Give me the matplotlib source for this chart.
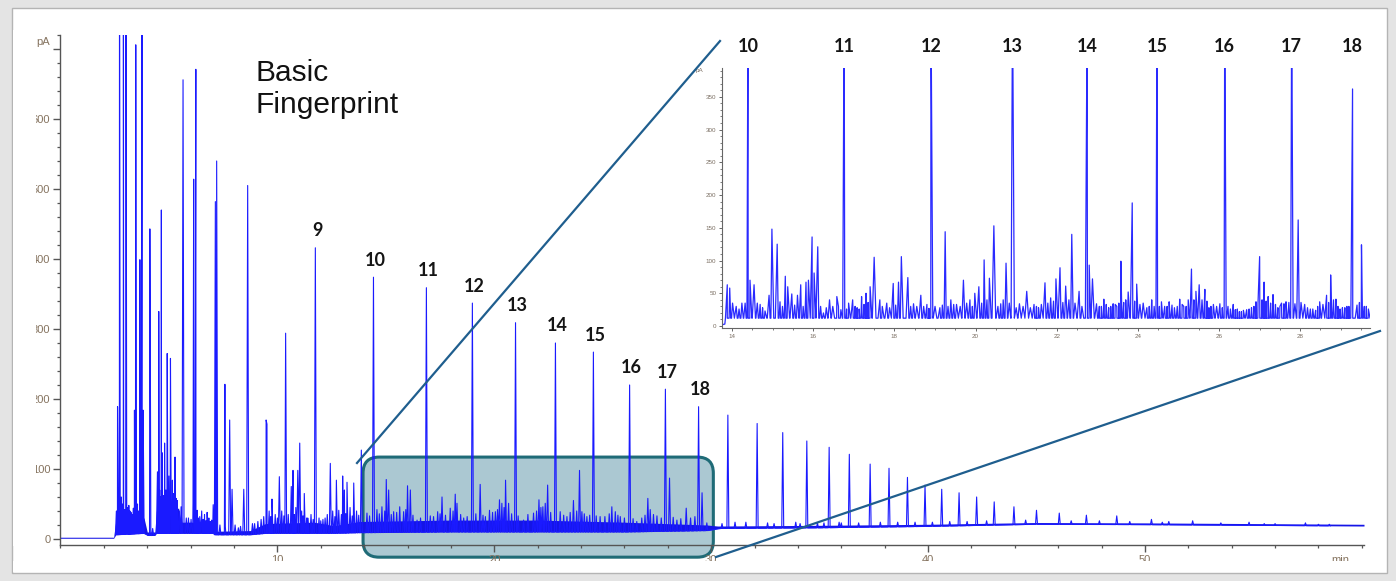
import numpy as np
import matplotlib.pyplot as plt
from matplotlib.patches import Rectangle, FancyBboxPatch
from matplotlib.lines import Line2D
from matplotlib.transforms import IdentityTransform, blended_transform_factory
from matplotlib.ticker import MultipleLocator, FixedLocator, FixedFormatter

plt.rcParams['font.family'] = ['Liberation Sans', 'DejaVu Sans']

W, H = 1396, 581

# ---- main chromatogram: retention time (min) and apex (pA) ----
main_t = [2.63, 2.72, 2.80, 2.90, 3.02, 3.10, 3.20, 3.30, 3.41, 3.47, 3.55, 3.66, 3.73, 3.76, 3.81,
          4.12, 4.15, 4.47, 4.53, 4.60, 4.65, 4.70, 4.80, 4.86, 4.92, 5.00, 5.07, 5.16, 5.22, 5.28,
          5.38, 5.56, 5.65, 5.80, 6.11, 6.14, 6.24, 6.30, 6.42, 6.51, 6.64, 6.76, 6.90, 7.04, 7.14,
          7.20, 7.35, 7.58, 7.80, 7.91, 8.05, 8.30, 8.45, 8.63, 8.85, 9.10, 9.37, 9.48, 9.52, 9.62,
          9.75, 9.90, 10.09, 10.20, 10.38, 10.50, 10.64, 10.72, 10.85, 10.94, 11.03, 11.12, 11.24,
          11.40, 11.55, 11.92, 12.10, 12.30, 12.44, 12.55, 12.72, 12.83, 13.01, 13.09, 13.21, 13.35,
          13.52, 13.65, 13.87,
          2.58, 2.67, 2.85, 2.96, 3.15, 3.25, 3.36, 3.60, 4.25, 4.45, 4.57, 4.75, 5.10, 5.33, 5.48,
          5.90, 6.02, 6.20, 6.35, 6.58, 6.70, 6.84, 6.97, 7.60, 8.20, 8.95, 9.25, 9.70, 10.00, 10.30,
          10.78, 11.18, 11.35, 11.65, 12.00, 12.20, 12.65, 12.95, 13.15, 13.45, 13.75,
          14.13, 14.59, 14.82, 15.02, 15.13, 15.36, 15.64, 15.82, 16.00, 16.13, 16.44, 17.20, 17.39,
          17.59, 17.97, 18.20, 18.28, 18.59, 19.35, 19.59, 19.78, 20.05, 20.24, 20.35, 20.52, 20.66,
          21.35, 21.81, 22.06, 22.24, 22.35, 22.46, 23.04, 23.35, 23.65, 23.93, 24.04, 24.27, 24.88,
          25.42, 25.58, 25.81, 26.57, 27.08, 27.19, 27.34, 28.08, 28.42, 28.85, 29.58, 29.80,
          14.25, 14.70, 14.95, 15.25, 15.50, 15.92, 16.25, 16.60, 17.05, 17.50, 17.75, 18.10, 18.45,
          18.75, 19.15, 19.48, 19.92, 20.15, 20.45, 20.80, 21.10, 21.55, 21.95, 22.15, 22.60, 23.20,
          23.50, 23.80, 24.15, 24.40, 24.70, 25.10, 25.30, 25.70, 26.00, 26.40, 26.80, 26.95, 27.50,
          27.70, 28.25, 28.60, 29.05, 29.25,
          30.77, 31.10, 31.60, 32.12, 32.60, 33.30, 33.90, 34.41, 34.90, 35.44, 35.90, 36.37, 37.33,
          37.80, 38.20, 39.05, 39.86, 40.63, 41.43, 42.24, 43.05, 43.96, 45.00, 46.05, 47.30, 48.70,
          50.30, 51.10, 52.20, 53.50, 54.80, 56.00, 57.40, 58.50,
          30.50, 32.90, 34.10, 35.20, 36.00, 36.80, 38.60, 39.40, 40.20, 41.00, 41.80, 42.70, 44.50,
          46.60, 47.90, 49.30, 50.80, 55.50, 58.00]
main_h = [189, 900, 60, 900, 900, 45, 40, 35, 184, 706, 50, 399, 58, 900, 184,
          443, 181, 96, 325, 60, 470, 123, 137, 70, 265, 90, 258, 84, 65, 117,
          55, 46, 656, 30, 51, 514, 671, 41, 32, 40, 35, 38, 25, 49, 482,
          540, 20, 221, 170, 71, 20, 18, 71, 505, 22, 25, 32, 170, 164, 40,
          57, 35, 89, 40, 294, 35, 75, 98, 45, 98, 137, 40, 65,
          30, 35, 30, 28, 35, 108, 40, 84, 41, 90, 70, 81, 45,
          80, 40, 127,
          40, 45, 50, 42, 48, 38, 44, 40, 15, 55, 70, 62, 60, 58, 40,
          30, 28, 33, 30, 28, 26, 30, 27, 18, 16, 22, 28, 32, 30, 33,
          35, 33, 30, 28, 26, 30, 32, 35, 36, 33, 34,
          37, 42, 46, 85, 70, 39, 46, 39, 76, 70, 27, 32, 39,
          60, 44, 64, 51, 30, 78, 32, 41, 39, 56, 51, 84, 51,
          27, 37, 56, 46, 51, 77, 39, 32, 55, 98, 39, 32, 32,
          46, 39, 32, 25, 58, 42, 35, 87, 27, 44, 66, 23,
          33, 36, 40, 35, 38, 42, 34, 30, 33, 36, 34, 40, 35,
          32, 36, 34, 38, 42, 45, 36, 33, 35, 40, 45, 38, 34,
          38, 40, 36, 34, 33, 32, 36, 34, 30, 29, 30, 34, 33,
          30, 31, 29, 30, 32,
          177, 24, 24, 165, 23, 152, 24, 140, 23, 131, 24, 121, 107,
          24, 101, 88, 77, 71, 66, 60, 53, 46, 41, 37, 34, 33,
          28, 25, 26, 23, 24, 22, 23, 21,
          22, 22, 22, 23, 23, 23, 24, 24, 24, 25, 25, 26, 27,
          26, 26, 25, 24, 22, 21]

# numbered n-alkane peaks in the main trace
num_main = [9, 10, 11, 12, 13, 14, 15, 16, 17, 18]
num_main_t = [11.75, 14.43, 16.87, 18.99, 20.98, 22.82, 24.57, 26.24, 27.89, 29.42]
num_main_h = [416, 374, 359, 337, 309, 280, 267, 220, 214, 189]

# unresolved envelope / baseline under the peaks (low and high edge, pA)
env_t = [0.0, 2.45, 2.55, 3.85, 4.0, 4.35, 4.42, 5.45, 5.52, 6.12, 7.05, 7.12, 8.75, 9.45,
         11.7, 12.6, 13.8, 18.0, 22.0, 26.0, 29.8, 30.3, 35.0, 40.0, 45.0, 50.0, 55.0, 60.1]
env_lo = [1, 1, 6, 8, 5, 5, 8, 8, 8, 8, 8, 6, 6, 8,
          8, 8, 9, 10, 10, 10, 12, 15, 16, 18, 21, 20.5, 19.5, 18.5]
env_hi = [2.5, 2.5, 26, 30, 10, 10, 40, 44, 24, 24, 18, 11, 12, 22,
          24, 19, 25, 27, 27, 24, 20, 18.5, 19.5, 21, 23.5, 23, 22, 21]

# zoomed region shown in the inset (min, pA)
zoom_t = [13.95, 30.1]
zoom_pa = [-26, 117]

# ---- inset chromatogram 14-30 min ----
ins_t = [13.88, 13.94, 14.01, 14.24, 14.32, 14.44, 14.54, 14.62, 14.69, 14.81, 14.91, 14.98, 15.11,
         15.18, 15.31, 15.37, 15.47, 15.61, 15.69, 15.82, 15.88, 15.97, 16.02, 16.11, 16.25, 16.32,
         16.40, 16.48, 16.58, 16.68, 16.87, 16.97, 17.08, 17.19, 17.30, 17.40, 17.50, 17.64, 17.81,
         17.97, 18.10, 18.17, 18.33, 18.47, 18.55, 18.65, 18.80, 19.12, 19.25, 19.39, 19.53, 19.70,
         19.86, 19.98, 20.08, 20.21, 20.34, 20.45, 20.62, 20.75, 21.08, 21.17, 21.26, 21.44, 21.55,
         21.71, 21.85, 21.98, 22.08, 22.22, 22.37, 22.55, 22.80, 22.88, 22.98, 23.05, 23.16, 23.28,
         23.39, 23.48, 23.58, 23.76, 23.86, 23.97, 24.13, 24.22, 24.34, 24.58, 24.66, 24.77, 24.90,
         25.03, 25.13, 25.24, 25.32, 25.43, 25.51, 25.65, 25.75, 25.86, 26.02, 26.35, 26.45, 26.55,
         26.68, 26.80, 26.91, 27.00, 27.11, 27.21, 27.33, 27.45, 27.54, 27.65, 27.95, 28.11, 28.25,
         28.38, 28.48, 28.65, 28.75, 28.88, 28.98, 29.10, 29.20, 29.51, 29.63,
         14.10, 14.17, 14.75, 15.24, 15.54, 15.75, 16.18, 16.62, 16.82, 17.03, 17.13, 17.25, 17.35,
         17.70, 17.88, 18.03, 18.40, 18.72, 18.85, 19.00, 19.18, 19.32, 19.46, 19.62, 19.78, 19.92,
         20.15, 20.28, 20.55, 20.68, 20.83, 21.00, 21.35, 21.50, 21.62, 21.78, 21.92, 22.15, 22.30,
         22.45, 22.62, 23.10, 23.22, 23.33, 23.44, 23.53, 23.65, 23.70, 23.92, 24.05, 24.28, 24.40,
         24.53, 24.72, 24.84, 24.97, 25.09, 25.19, 25.38, 25.58, 25.70, 25.80, 25.94, 26.08, 26.22,
         26.28, 26.40, 26.50, 26.60, 26.74, 26.86, 26.96, 27.06, 27.16, 27.27, 27.39, 27.50, 27.60,
         27.72, 27.87, 28.02, 28.18, 28.31, 28.43, 28.56, 28.70, 28.82, 28.93, 29.04, 29.15, 29.25,
         29.40, 29.46, 29.58, 29.68]
ins_h = [63, 58, 35, 35, 35, 70, 63, 35, 33, 23, 47, 148, 125,
         37, 76, 60, 49, 47, 63, 67, 70, 136, 81, 121, 20, 28,
         40, 30, 45, 25, 35, 40, 28, 45, 50, 60, 105, 40, 35,
         65, 67, 106, 74, 34, 30, 47, 33, 28, 144, 40, 33, 70,
         40, 50, 60, 101, 73, 153, 34, 96, 34, 30, 53, 33, 28,
         66, 43, 72, 89, 61, 140, 53, 93, 72, 34, 30, 41, 28,
         34, 30, 99, 52, 188, 64, 35, 28, 40, 37, 30, 37, 28,
         41, 30, 40, 87, 53, 63, 56, 28, 33, 34, 33, 26, 22,
         25, 28, 37, 106, 67, 45, 48, 28, 35, 37, 162, 33, 26,
         24, 37, 47, 78, 41, 26, 28, 30, 124, 30,
         30, 26, 28, 30, 32, 30, 30, 30, 26, 30, 26, 33, 36,
         30, 28, 32, 30, 30, 27, 30, 32, 30, 33, 30, 35, 30,
         35, 40, 30, 40, 35, 28, 28, 30, 33, 35, 38, 36, 40,
         35, 30, 30, 33, 30, 33, 35, 36, 40, 38, 33, 30, 30,
         30, 30, 32, 30, 33, 30, 40, 40, 38, 30, 30, 28, 30,
         26, 25, 22, 24, 26, 30, 35, 40, 38, 35, 33, 30, 34,
         36, 34, 36, 28, 26, 30, 33, 36, 40, 30, 28, 30, 33,
         32, 36, 30, 26]
ins_base_t = [13.75, 13.82, 13.88, 29.72]
ins_base_v = [2, 3, 12, 12]

num_ins = [10, 11, 12, 13, 14, 15, 16, 17, 18]
num_ins_t = [14.39, 16.76, 18.90, 20.91, 22.75, 24.47, 26.14, 27.79, 29.29]
num_ins_h = [500, 500, 500, 500, 500, 500, 500, 500, 362]


def px(x, y):
    return x / W, 1 - y / H


def spikes(t, h, base_t, base_v, w, with_base=False):
    t = np.asarray(t, float)
    h = np.asarray(h, float)
    b = np.interp(t, base_t, base_v)
    xs = [t - w, t, t + w]
    ys = [b, h, b]
    if with_base:
        xs.append(np.asarray(base_t, float))
        ys.append(np.asarray(base_v, float))
    xs = np.concatenate(xs)
    ys = np.concatenate(ys)
    o = np.argsort(xs, kind='stable')
    return xs[o], ys[o]


lab_col = '#85735f'
blue = '#1a1aff'

fig = plt.figure(figsize=(W / 100, H / 100), dpi=100)
fig.patch.set_facecolor('#e4e4e4')
fig.add_artist(Rectangle(px(12, 573), (1387 - 12) / W, (573 - 8) / H, transform=fig.transFigure,
                         fc='white', ec='#b4b4b4', lw=1, zorder=-1))

# main axes
ax = fig.add_axes([60.5 / W, 1 - 545 / H, (1364 - 60.5) / W, (545 - 35) / H])
ax.set_xlim(0, 60.1)
ax.set_ylim(-8.6, 720)
ax.patch.set_alpha(0)
for s in ['top', 'right']:
    ax.spines[s].set_visible(False)
for s in ['left', 'bottom']:
    ax.spines[s].set_color('#555555')
    ax.spines[s].set_linewidth(1.0)
ax.xaxis.set_major_locator(FixedLocator([10, 20, 30, 40, 50]))
ax.xaxis.set_minor_locator(MultipleLocator(2))
ax.yaxis.set_major_locator(FixedLocator([0, 100, 200, 300, 400, 500, 600, 700]))
ax.yaxis.set_major_formatter(FixedFormatter(['0', '100', '200', '300', '400', '500', '600', '']))
ax.yaxis.set_minor_locator(MultipleLocator(20))
ax.tick_params(which='major', length=4.8, width=1, color='#555555', labelsize=8,
               labelcolor=lab_col, pad=2.5)
ax.tick_params(which='minor', length=2.4, width=0.9, color='#555555')

all_t = main_t + num_main_t
all_h = main_h + num_main_h
ax.fill_between(env_t, env_lo, env_hi, color='#1515e6', lw=0, zorder=2.6)
xs, ys = spikes(all_t, all_h, env_t, env_lo, 0.045)
ax.plot(xs, ys, color=blue, lw=0.8, zorder=2.7)

for n, t, h in zip(num_main, num_main_t, num_main_h):
    ax.annotate(str(n), (t, h), xytext=(2, 17), textcoords='offset pixels', ha='center',
                va='center', fontsize=13, fontweight='bold', family=['Lato', 'DejaVu Sans'],
                color='#151515', annotation_clip=False)

ax.annotate('min', (59.0, 0), xycoords=('data', 'axes fraction'), xytext=(0, -15),
            textcoords='offset pixels', ha='center', va='center', fontsize=8, color=lab_col)

# highlighted region (drawn in pixels so the corners stay round)
(bx0, by0), (bx1, by1) = ax.transData.transform([(zoom_t[0], zoom_pa[0]), (zoom_t[1], zoom_pa[1])])
ax.add_patch(FancyBboxPatch((bx0, by0), bx1 - bx0, by1 - by0,
                            boxstyle='round,pad=0,rounding_size=16', transform=IdentityTransform(),
                            fc='#abc8d2', ec='#1f6b77', lw=2.2, clip_on=False, zorder=1))

# inset
ins = fig.add_axes([722 / W, 1 - 328 / H, 648 / W, 260 / H])
ins.set_xlim(13.75, 29.72)
ins.set_ylim(-3, 394)
for s in ['top', 'right']:
    ins.spines[s].set_visible(False)
for s in ['left', 'bottom']:
    ins.spines[s].set_color('#666666')
    ins.spines[s].set_linewidth(0.8)
ins.xaxis.set_major_locator(MultipleLocator(2))
ins.xaxis.set_minor_locator(MultipleLocator(0.5))
ins.yaxis.set_major_locator(FixedLocator([0, 50, 100, 150, 200, 250, 300, 350]))
ins.yaxis.set_minor_locator(MultipleLocator(10))
ins.tick_params(which='major', length=2.5, width=0.7, color='#666666', labelsize=4.5,
                labelcolor='#7a6e62', pad=1.5)
ins.tick_params(which='minor', length=1.3, width=0.6, color='#666666')

xs, ys = spikes(ins_t + num_ins_t, ins_h + num_ins_h, ins_base_t, ins_base_v, 0.045, True)
ins.plot(xs, ys, color='#2a2aff', lw=0.9)
ins.text(-0.035, 0.99, 'pA', transform=ins.transAxes, fontsize=4.5, color='#7a6e62',
         ha='center', va='center')

trans = blended_transform_factory(ins.transData, ins.transAxes)
for n, t in zip(num_ins, num_ins_t):
    ins.text(t, 1 + 21 / 260, str(n), transform=trans, ha='center', va='center', fontsize=13,
             fontweight='bold', family=['Lato', 'DejaVu Sans'], color='#151515')

# connector lines between box and inset
for (x0, y0), (x1, y1) in [((357, 463), (720, 41)), ((716, 557), (1380, 331))]:
    a, b = px(x0, y0)
    c, d = px(x1, y1)
    fig.add_artist(Line2D([a, c], [b, d], transform=fig.transFigure, color='#1f5e8e', lw=1.6,
                          zorder=5))

fig.text(*px(255, 59), 'Basic\nFingerprint', fontsize=21.5, va='top', ha='left', color='#111111',
         linespacing=1.2)

# cropped edges of the original screenshot
fig.add_artist(Rectangle(px(13, 546), (36 - 13) / W, (546 - 30) / H, transform=fig.transFigure,
                         fc='white', ec='none', zorder=10))
fig.add_artist(Rectangle(px(13, 572), (1386 - 13) / W, (572 - 561) / H, transform=fig.transFigure,
                         fc='white', ec='none', zorder=10))
fig.text(*px(43, 42), 'pA', fontsize=8, color=lab_col, ha='center', va='center', zorder=11)

fig.savefig('out.png', dpi=100, facecolor=fig.get_facecolor())
